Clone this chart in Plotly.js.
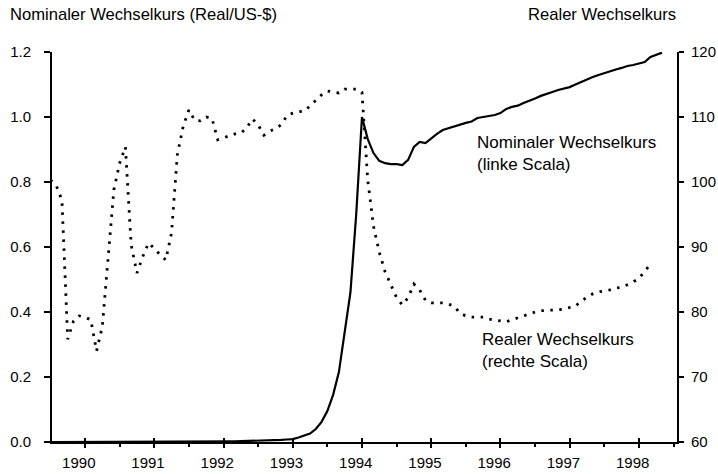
<!DOCTYPE html>
<html>
<head>
<meta charset="utf-8">
<script src="https://cdn.plot.ly/plotly-3.0.1.min.js"></script>
<style>html,body{margin:0;padding:0;background:#fff;}#chart{width:718px;height:474px;}</style>
</head>
<body>
<div id="chart"></div>
<script>
// Monthly data, January 1990 onwards (month index -> decimal year)
const startYear = 1990;
const realRate = [
  100.3, 99.5, 97.2, 75.8, 78.6, 79.4, 79.2, 78.8, 74.0, 77.8, 88.3, 98.8,
  102.9, 105.4, 90.3, 86.0, 88.5, 90.6, 89.8, 88.8, 88.0, 92.2, 104.2, 108.5,
  111.1, 109.5, 109.4, 110.0, 109.8, 106.5, 106.8, 107.1, 107.4, 107.5, 108.3, 109.7,
  108.8, 107.2, 107.8, 108.2, 108.8, 110.2, 110.6, 110.8, 110.9, 111.7, 112.6, 113.4,
  114.0, 113.8, 113.7, 114.3, 114.3, 114.3, 113.8, 100.3, 93.2, 89.2, 86.2, 84.2,
  82.2, 81.1, 82.2, 84.3, 83.4, 81.8, 81.4, 81.4, 81.4, 81.2, 80.9, 79.8,
  79.4, 79.2, 79.2, 79.2, 78.9, 78.8, 78.6, 78.5, 78.8, 79.1, 79.5, 79.8,
  80.0, 80.2, 80.3, 80.3, 80.3, 80.5, 80.6, 80.9, 81.7, 82.3, 82.8, 83.1,
  83.2, 83.4, 83.7, 83.8, 84.2, 84.6, 85.2, 86.2, 87.4
];
const nominalRate = [
  0.00003, 0.00004, 0.00005, 0.00006, 0.00007, 0.00008, 0.00009, 0.0001, 0.00011, 0.00013, 0.00015, 0.00017,
  0.0002, 0.00023, 0.00026, 0.0003, 0.00033, 0.00036, 0.0004, 0.00045, 0.0005, 0.00058, 0.00065, 0.00075,
  0.0009, 0.001, 0.0012, 0.0013, 0.0015, 0.0017, 0.0019, 0.0021, 0.0023, 0.0025, 0.0028, 0.0031,
  0.0035, 0.0040, 0.0046, 0.0055, 0.0065, 0.0077, 0.009, 0.014, 0.020, 0.026, 0.040, 0.062,
  0.095, 0.145, 0.215, 0.33, 0.46, 0.70, 1.0, 0.932, 0.889, 0.865, 0.858, 0.855,
  0.855, 0.852, 0.868, 0.908, 0.923, 0.92, 0.935, 0.948, 0.96, 0.966, 0.971, 0.977,
  0.982, 0.986, 0.997, 1.0, 1.003, 1.006, 1.012, 1.025, 1.031, 1.035, 1.043, 1.049,
  1.057, 1.065, 1.072, 1.077, 1.083, 1.088, 1.092, 1.1, 1.108, 1.114, 1.123, 1.129,
  1.135, 1.142, 1.146, 1.151, 1.157, 1.16, 1.165, 1.169, 1.185, 1.192, 1.198
];
const yearLabels = ['1990','1991','1992','1993','1994','1995','1996','1997','1998'];
const leftTicks = [0, 0.2, 0.4, 0.6, 0.8, 1.0, 1.2];
const rightTicks = [60, 70, 80, 90, 100, 110, 120];

const monthX = n => Array.from({length: n}, (_, i) => startYear + i / 12);
const years = yearLabels.map(Number);
const midYears = years.map(y => y + 0.5);
const labelPos = years.map(y => y + 0.41);
const xRange = [1990.023, 1999.05];

const font = 'Liberation Sans, Arial, sans-serif';

const traces = [
  {x: monthX(nominalRate.length), y: nominalRate, type: 'scatter', mode: 'lines',
   line: {color: '#000', width: 2.2}, xaxis: 'x', yaxis: 'y', hoverinfo: 'skip'},
  {x: monthX(realRate.length), y: realRate, type: 'scatter', mode: 'lines',
   line: {color: '#000', width: 2.8, dash: '2.5px,6.5px'}, xaxis: 'x', yaxis: 'y2', hoverinfo: 'skip'},
  // empty traces so the overlaid tick-only axes are drawn
  {x: [], y: [], type: 'scatter', mode: 'lines', xaxis: 'x2', yaxis: 'y', hoverinfo: 'skip'},
  {x: [], y: [], type: 'scatter', mode: 'lines', xaxis: 'x3', yaxis: 'y', hoverinfo: 'skip'}
];

const layout = {
  width: 718, height: 474,
  margin: {l: 52, r: 41, t: 52, b: 32},
  paper_bgcolor: '#fff', plot_bgcolor: '#fff',
  showlegend: false,
  font: {family: font, size: 15, color: '#000'},
  xaxis: {range: xRange, showgrid: false, zeroline: false, showline: true, linecolor: '#000', linewidth: 2,
          tickmode: 'array', tickvals: labelPos, ticktext: yearLabels, ticks: '', ticklabelstandoff: 6,
          tickfont: {size: 15}},
  xaxis2: {overlaying: 'x', anchor: 'y', range: xRange, showgrid: false, zeroline: false, showline: false,
           tickmode: 'array', tickvals: midYears, ticks: 'outside', ticklen: 5, tickwidth: 2, tickcolor: '#000',
           showticklabels: false,
           minor: {tick0: 1990, dtick: 1, ticks: 'outside', ticklen: 4, tickwidth: 2, tickcolor: '#000', showgrid: false}},
  xaxis3: {overlaying: 'x', anchor: 'y', range: xRange, showgrid: false, zeroline: false, showline: false,
           tickmode: 'array', tickvals: midYears, ticks: 'inside', ticklen: 4, tickwidth: 2, tickcolor: '#000',
           showticklabels: false},
  yaxis: {range: [0, 1.2], showgrid: false, zeroline: false, showline: true, linecolor: '#000', linewidth: 2,
          tickmode: 'array', tickvals: leftTicks, tickformat: '.1f', ticks: 'outside', ticklen: 6, tickwidth: 2,
          tickcolor: '#000', ticklabelstandoff: 10},
  yaxis2: {overlaying: 'y', side: 'right', anchor: 'x', range: [60, 120], showgrid: false, zeroline: false,
           showline: true, linecolor: '#000', linewidth: 2, tickmode: 'array', tickvals: rightTicks,
           ticks: 'outside', ticklen: 5, tickwidth: 2, tickcolor: '#000', ticklabelstandoff: 4},
  annotations: [
    {text: 'Nominaler Wechselkurs (Real/US-$)', xref: 'paper', yref: 'paper', x: -0.0704, y: 1.097,
     xanchor: 'left', yanchor: 'middle', showarrow: false, font: {size: 16.6}},
    {text: 'Realer Wechselkurs', xref: 'paper', yref: 'paper', x: 1.0016, y: 1.097,
     xanchor: 'right', yanchor: 'middle', showarrow: false, font: {size: 16.6}},
    {text: 'Nominaler Wechselkurs<br>(linke Scala)', xref: 'paper', yref: 'paper', x: 0.677, y: 0.797,
     xanchor: 'left', yanchor: 'top', align: 'left', showarrow: false, font: {size: 17}},
    {text: 'Realer Wechselkurs<br>(rechte Scala)', xref: 'paper', yref: 'paper', x: 0.685, y: 0.292,
     xanchor: 'left', yanchor: 'top', align: 'left', showarrow: false, font: {size: 17}}
  ]
};

Plotly.newPlot('chart', traces, layout, {staticPlot: true, displayModeBar: false});
</script>
</body>
</html>
